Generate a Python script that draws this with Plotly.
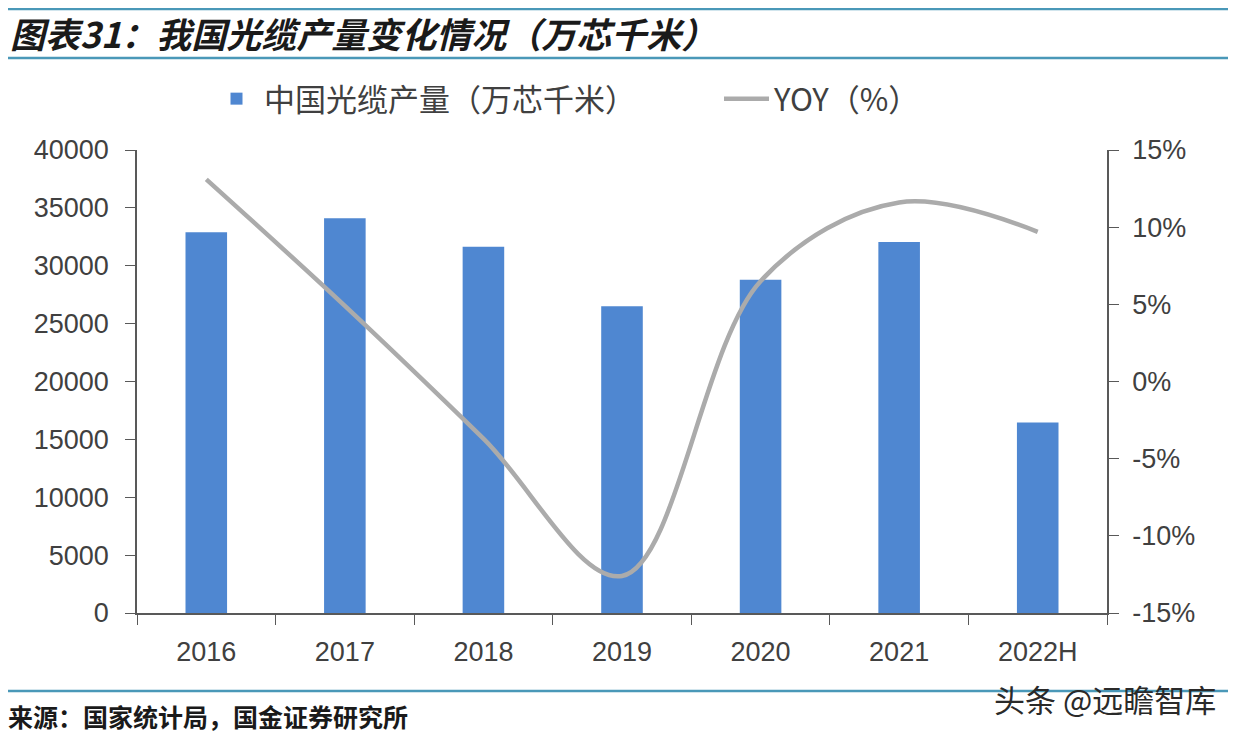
import plotly.graph_objects as go

categories = ["2016", "2017", "2018", "2019", "2020", "2021", "2022H"]
production = [32900, 34100, 31650, 26500, 28800, 32050, 16450]
yoy = [13.1, 4.9, -3.7, -12.6, 6.5, 11.6, 9.7]
yoy_tickvals = [-15, -10, -5, 0, 5, 10, 15]
yoy_ticktext = ["-15%", "-10%", "-5%", "0%", "5%", "10%", "15%"]

bar_name = "中国光缆产量（万芯千米）"
line_name = "YOY（%）"
title_text = "图表31：我国光缆产量变化情况（万芯千米）"
source_text = "来源：国家统计局，国金证券研究所"
mark_text = "头条 @远瞻智库"

FONT = "Liberation Sans, Arial, Noto Sans CJK SC, sans-serif"
CJK = "Noto Sans CJK SC, Liberation Sans, sans-serif"
AX = "#595959"
TXT = "#404040"

fig = go.Figure()
fig.add_trace(go.Bar(x=categories, y=production, name=bar_name,
                     marker=dict(color="#4F87D1", line=dict(width=0)),
                     width=0.3, yaxis="y", legend="legend"))
fig.add_trace(go.Scatter(x=categories, y=yoy, name=line_name, mode="lines",
                         line=dict(color="#ABABAB", width=4.5, shape="spline", smoothing=1.0),
                         yaxis="y2", legend="legend2"))

OFF = 8  # default page body margin
W, H = 1236 - OFF, 734 - OFF
L, R, T, B = 137 - OFF, 129, 150 - OFF, 121
pw, ph = W - L - R, H - T - B

def px(x):
    return (x - OFF - L) / pw

def py(y):
    return (H - B - (y - OFF)) / ph

leg_common = dict(orientation="h", yanchor="middle", xanchor="left",
                  font=dict(family=CJK, size=31, color=TXT),
                  itemwidth=45, bgcolor="rgba(0,0,0,0)")

fig.update_layout(
    width=W, height=H,
    margin=dict(l=L, r=R, t=T, b=B),
    paper_bgcolor="white", plot_bgcolor="white",
    font=dict(family=FONT, color=TXT, size=27),
    showlegend=True,
    legend=dict(x=px(209), y=py(99), **leg_common),
    legend2=dict(x=px(719), y=py(99), **leg_common),
    xaxis=dict(type="category", showline=True, linecolor=AX, linewidth=1.5,
               ticks="outside", tickson="boundaries", ticklen=10, tickcolor=AX,
               tickfont=dict(size=27, color=TXT, family=FONT), showgrid=False,
               zeroline=False, range=[-0.5, 6.5], ticklabelstandoff=14),
    yaxis=dict(range=[0, 40000], dtick=5000, showline=True, linecolor=AX, linewidth=1.5,
               ticks="outside", ticklen=10, tickcolor=AX, showgrid=False, zeroline=False,
               tickfont=dict(size=27, color=TXT, family=FONT), tickformat="d", ticklabelstandoff=11),
    yaxis2=dict(range=[-15, 15], tickvals=yoy_tickvals, ticktext=yoy_ticktext,
                overlaying="y", side="right", showline=True,
                linecolor=AX, linewidth=1.5, ticks="outside", ticklen=10, tickcolor=AX,
                showgrid=False, zeroline=False,
                tickfont=dict(size=27, color=TXT, family=FONT), ticklabelstandoff=8),
)

line_col = "#4A98B8"
for yline in [9, 58, 691]:
    fig.add_shape(type="line", xref="paper", yref="paper",
                  x0=px(0), x1=px(1236), y0=py(yline), y1=py(yline),
                  line=dict(color=line_col, width=2.5))

fig.add_annotation(xref="paper", yref="paper", x=px(8), y=py(33), xanchor="left", yanchor="middle",
                   text="<b><i>" + title_text + "</i></b>", showarrow=False,
                   font=dict(family=CJK, size=35, color="#1a1a1a"))
fig.add_annotation(xref="paper", yref="paper", x=px(6), y=py(716), xanchor="left", yanchor="middle",
                   text="<b>" + source_text + "</b>", showarrow=False,
                   font=dict(family=CJK, size=25, color="#1a1a1a"))
fig.add_annotation(xref="paper", yref="paper", x=px(1218), y=py(698), xanchor="right", yanchor="middle",
                   text=mark_text, showarrow=False,
                   font=dict(family=CJK, size=31, color="#2a2a2a"))

fig.write_html("out.html")
